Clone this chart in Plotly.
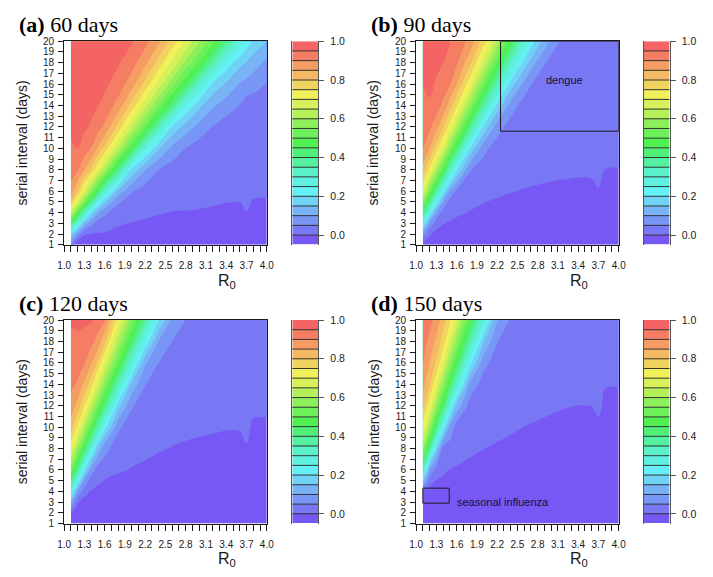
import plotly.graph_objects as go

# grid the model was evaluated on
R0_VALUES = [1.1, 1.2, 1.3, 1.4, 1.5, 1.6, 1.8, 2.0, 2.2, 2.4, 2.6, 2.8, 3.0, 3.2, 3.4, 3.6, 3.7, 3.8, 4.0]
SERIAL_INTERVAL = [1, 2, 3, 4, 5, 6, 8, 10, 12, 14, 16, 18, 20]

# one row per serial interval, one column per R0
FRAC_60_DAYS = [
    [0.04, -0.05, -0.025, -0.025, -0.025, -0.025, -0.025, -0.025, -0.025, -0.025, -0.025, -0.025, -0.025, -0.025, -0.025, -0.025, -0.025, -0.025, -0.025],
    [0.20, 0.08, 0.003, -0.001, -0.003, -0.004, -0.025, -0.025, -0.025, -0.025, -0.025, -0.025, -0.025, -0.025, -0.025, -0.025, -0.025, -0.025, -0.025],
    [0.45, 0.28, 0.14, 0.067, 0.025, 0.025, 0.011, -0.003, -0.017, -0.025, -0.025, -0.025, -0.025, -0.025, -0.025, -0.025, -0.025, -0.025, -0.025],
    [0.67, 0.503, 0.34, 0.196, 0.11, 0.061, 0.025, 0.025, 0.025, 0.006, -0.003, -0.006, -0.013, -0.025, -0.025, -0.025, -0.003, -0.025, -0.025],
    [0.802, 0.68, 0.545, 0.396, 0.255, 0.159, 0.057, 0.025, 0.025, 0.025, 0.025, 0.025, 0.025, 0.017, 0.003, -0.001, 0.025, -0.011, -0.013],
    [0.88, 0.797, 0.69, 0.574, 0.444, 0.309, 0.133, 0.054, 0.025, 0.025, 0.025, 0.025, 0.025, 0.025, 0.025, 0.025, 0.025, 0.025, 0.025],
    [0.925, 0.905, 0.854, 0.791, 0.705, 0.611, 0.402, 0.193, 0.101, 0.049, 0.025, 0.025, 0.025, 0.025, 0.025, 0.025, 0.025, 0.025, 0.025],
    [0.94, 0.952, 0.928, 0.899, 0.846, 0.788, 0.636, 0.471, 0.272, 0.154, 0.088, 0.049, 0.025, 0.025, 0.025, 0.025, 0.025, 0.025, 0.025],
    [0.965, 0.97, 0.958, 0.945, 0.92, 0.89, 0.785, 0.654, 0.518, 0.347, 0.191, 0.127, 0.081, 0.048, 0.025, 0.025, 0.025, 0.025, 0.025],
    [0.97, 0.975, 0.97, 0.96, 0.952, 0.936, 0.88, 0.783, 0.668, 0.548, 0.409, 0.25, 0.163, 0.108, 0.075, 0.049, 0.025, 0.025, 0.025],
    [0.97, 0.975, 0.975, 0.97, 0.965, 0.96, 0.929, 0.872, 0.782, 0.679, 0.571, 0.457, 0.311, 0.191, 0.142, 0.096, 0.083, 0.07, 0.047],
    [0.975, 0.98, 0.98, 0.975, 0.975, 0.97, 0.955, 0.922, 0.864, 0.78, 0.688, 0.589, 0.497, 0.366, 0.235, 0.168, 0.147, 0.125, 0.089],
    [0.98, 0.985, 0.985, 0.985, 0.98, 0.98, 0.97, 0.955, 0.917, 0.858, 0.779, 0.695, 0.605, 0.521, 0.412, 0.288, 0.229, 0.19, 0.151],
]

FRAC_90_DAYS = [
    [-0.02, -0.025, -0.025, -0.025, -0.025, -0.025, -0.025, -0.025, -0.025, -0.025, -0.025, -0.025, -0.025, -0.025, -0.025, -0.025, -0.025, -0.025, -0.025],
    [0.075, 0.006, -0.017, -0.025, -0.025, -0.025, -0.025, -0.025, -0.025, -0.025, -0.025, -0.025, -0.025, -0.025, -0.025, -0.025, -0.025, -0.025, -0.025],
    [0.26, 0.085, 0.025, 0.004, -0.008, -0.025, -0.025, -0.025, -0.025, -0.025, -0.025, -0.025, -0.025, -0.025, -0.025, -0.025, -0.025, -0.025, -0.025],
    [0.43, 0.245, 0.09, 0.025, 0.025, 0.017, -0.006, -0.025, -0.025, -0.025, -0.025, -0.025, -0.025, -0.025, -0.025, -0.025, -0.025, -0.025, -0.025],
    [0.575, 0.405, 0.233, 0.095, 0.025, 0.025, 0.025, 0.004, -0.014, -0.025, -0.025, -0.025, -0.025, -0.025, -0.025, -0.025, -0.025, -0.025, -0.025],
    [0.701, 0.543, 0.381, 0.222, 0.098, 0.038, 0.025, 0.025, 0.025, 0.004, -0.004, -0.011, -0.021, -0.025, -0.025, -0.025, -0.004, -0.025, -0.025],
    [0.83, 0.74, 0.621, 0.486, 0.341, 0.207, 0.053, 0.025, 0.025, 0.025, 0.025, 0.025, 0.025, 0.021, 0.014, 0.017, 0.025, -0.001, -0.003],
    [0.905, 0.849, 0.776, 0.685, 0.563, 0.438, 0.196, 0.065, 0.025, 0.025, 0.025, 0.025, 0.025, 0.025, 0.025, 0.025, 0.025, 0.025, 0.025],
    [0.92, 0.91, 0.871, 0.806, 0.726, 0.625, 0.401, 0.19, 0.073, 0.025, 0.025, 0.025, 0.025, 0.025, 0.025, 0.025, 0.025, 0.025, 0.025],
    [0.935, 0.943, 0.923, 0.89, 0.829, 0.759, 0.576, 0.37, 0.185, 0.079, 0.025, 0.025, 0.025, 0.025, 0.025, 0.025, 0.025, 0.025, 0.025],
    [0.951, 0.962, 0.945, 0.924, 0.903, 0.85, 0.714, 0.534, 0.343, 0.181, 0.084, 0.025, 0.025, 0.025, 0.025, 0.025, 0.025, 0.025, 0.025],
    [0.965, 0.97, 0.96, 0.951, 0.929, 0.909, 0.813, 0.67, 0.497, 0.32, 0.178, 0.088, 0.025, 0.025, 0.025, 0.025, 0.025, 0.025, 0.025],
    [0.97, 0.975, 0.97, 0.96, 0.952, 0.934, 0.884, 0.773, 0.631, 0.467, 0.301, 0.173, 0.091, 0.025, 0.025, 0.025, 0.025, 0.025, 0.025],
]

FRAC_120_DAYS = [
    [-0.025, -0.025, -0.025, -0.025, -0.025, -0.025, -0.025, -0.025, -0.025, -0.025, -0.025, -0.025, -0.025, -0.025, -0.025, -0.025, -0.025, -0.025, -0.025],
    [0.003, -0.025, -0.025, -0.025, -0.025, -0.025, -0.025, -0.025, -0.025, -0.025, -0.025, -0.025, -0.025, -0.025, -0.025, -0.025, -0.025, -0.025, -0.025],
    [0.12, 0.006, -0.025, -0.025, -0.025, -0.025, -0.025, -0.025, -0.025, -0.025, -0.025, -0.025, -0.025, -0.025, -0.025, -0.025, -0.025, -0.025, -0.025],
    [0.286, 0.093, 0.025, -0.003, -0.025, -0.025, -0.025, -0.025, -0.025, -0.025, -0.025, -0.025, -0.025, -0.025, -0.025, -0.025, -0.025, -0.025, -0.025],
    [0.44, 0.243, 0.082, 0.025, 0.017, -0.003, -0.025, -0.025, -0.025, -0.025, -0.025, -0.025, -0.025, -0.025, -0.025, -0.025, -0.025, -0.025, -0.025],
    [0.55, 0.384, 0.205, 0.075, 0.025, 0.025, 0.011, -0.004, -0.021, -0.025, -0.025, -0.025, -0.025, -0.025, -0.025, -0.025, -0.025, -0.025, -0.025],
    [0.72, 0.592, 0.45, 0.287, 0.144, 0.065, 0.025, 0.025, 0.025, 0.006, -0.003, -0.014, -0.025, -0.025, -0.025, -0.025, -0.008, -0.025, -0.025],
    [0.825, 0.737, 0.624, 0.502, 0.36, 0.221, 0.059, 0.025, 0.025, 0.025, 0.025, 0.025, 0.021, 0.011, 0.005, 0.006, 0.025, -0.017, -0.021],
    [0.883, 0.83, 0.755, 0.651, 0.54, 0.418, 0.172, 0.055, 0.025, 0.025, 0.025, 0.025, 0.025, 0.025, 0.025, 0.025, 0.025, 0.025, 0.025],
    [0.91, 0.895, 0.84, 0.774, 0.674, 0.571, 0.346, 0.136, 0.052, 0.025, 0.025, 0.025, 0.025, 0.025, 0.025, 0.025, 0.025, 0.025, 0.025],
    [0.924, 0.914, 0.903, 0.857, 0.793, 0.694, 0.505, 0.288, 0.108, 0.049, 0.025, 0.025, 0.025, 0.025, 0.025, 0.025, 0.025, 0.025, 0.025],
    [0.939, 0.94, 0.93, 0.915, 0.879, 0.809, 0.621, 0.438, 0.239, 0.095, 0.049, 0.025, 0.025, 0.025, 0.025, 0.025, 0.025, 0.025, 0.025],
    [0.955, 0.96, 0.96, 0.955, 0.934, 0.903, 0.73, 0.558, 0.382, 0.201, 0.09, 0.049, 0.025, 0.025, 0.025, 0.025, 0.025, 0.025, 0.025],
]

FRAC_150_DAYS = [
    [-0.025, -0.025, -0.025, -0.025, -0.025, -0.025, -0.025, -0.025, -0.025, -0.025, -0.025, -0.025, -0.025, -0.025, -0.025, -0.025, -0.025, -0.025, -0.025],
    [-0.025, -0.025, -0.025, -0.025, -0.025, -0.025, -0.025, -0.025, -0.025, -0.025, -0.025, -0.025, -0.025, -0.025, -0.025, -0.025, -0.025, -0.025, -0.025],
    [-0.025, -0.025, -0.025, -0.025, -0.025, -0.025, -0.025, -0.025, -0.025, -0.025, -0.025, -0.025, -0.025, -0.025, -0.025, -0.025, -0.025, -0.025, -0.025],
    [-0.005, -0.025, -0.025, -0.025, -0.025, -0.025, -0.025, -0.025, -0.025, -0.025, -0.025, -0.025, -0.025, -0.025, -0.025, -0.025, -0.025, -0.025, -0.025],
    [0.16, 0.025, -0.002, -0.025, -0.025, -0.025, -0.025, -0.025, -0.025, -0.025, -0.025, -0.025, -0.025, -0.025, -0.025, -0.025, -0.025, -0.025, -0.025],
    [0.35, 0.092, 0.025, 0.025, -0.002, -0.006, -0.025, -0.025, -0.025, -0.025, -0.025, -0.025, -0.025, -0.025, -0.025, -0.025, -0.025, -0.025, -0.025],
    [0.601, 0.393, 0.171, 0.025, 0.025, 0.025, 0.017, 0.001, -0.011, -0.025, -0.025, -0.025, -0.025, -0.025, -0.025, -0.025, -0.025, -0.025, -0.025],
    [0.733, 0.592, 0.419, 0.233, 0.087, 0.025, 0.025, 0.025, 0.025, 0.014, -0.001, -0.011, -0.025, -0.025, -0.025, -0.025, -0.021, -0.025, -0.025],
    [0.822, 0.721, 0.586, 0.439, 0.279, 0.133, 0.025, 0.025, 0.025, 0.025, 0.025, 0.025, 0.017, 0.004, -0.001, 0.001, 0.025, -0.025, -0.025],
    [0.867, 0.807, 0.708, 0.58, 0.453, 0.313, 0.086, 0.025, 0.025, 0.025, 0.025, 0.025, 0.025, 0.025, 0.025, 0.025, 0.025, 0.006, 0.004],
    [0.905, 0.848, 0.792, 0.699, 0.577, 0.464, 0.218, 0.067, 0.025, 0.025, 0.025, 0.025, 0.025, 0.025, 0.025, 0.025, 0.025, 0.025, 0.025],
    [0.915, 0.89, 0.837, 0.775, 0.687, 0.575, 0.361, 0.152, 0.052, 0.025, 0.025, 0.025, 0.025, 0.025, 0.025, 0.025, 0.025, 0.025, 0.025],
    [0.925, 0.915, 0.879, 0.826, 0.762, 0.678, 0.48, 0.28, 0.101, 0.045, 0.025, 0.025, 0.025, 0.025, 0.025, 0.025, 0.025, 0.025, 0.025],
]

LEVELS = [0.0, 0.05, 0.1, 0.15, 0.2, 0.25, 0.3, 0.35, 0.4, 0.45, 0.5,
          0.55, 0.6, 0.65, 0.7, 0.75, 0.8, 0.85, 0.9, 0.95]
# fill colour of each band, lowest (below 0.0) first
BAND_COLOURS = [
    "#7858f5", "#7878f5", "#7896f5", "#78b4f5", "#70d2f5", "#64f0f5",
    "#60f0e0", "#5af0c8", "#55f0a0", "#50f078", "#50f050", "#6ef05a",
    "#8cf05a", "#b4f05a", "#d8f05a", "#f0f05a", "#f0d45f", "#f5b964",
    "#f59b64", "#f57d64", "#f56464",
]
CBAR_TICKS = [0.0, 0.2, 0.4, 0.6, 0.8, 1.0]
X_TICKS = [1.0, 1.3, 1.6, 1.9, 2.2, 2.5, 2.8, 3.1, 3.4, 3.7, 4.0]
Y_TICKS = [1, 2, 3, 4, 5, 6, 7, 8, 9, 10, 11, 12, 13, 14, 15, 16, 17, 18, 19, 20]

DENGUE_R0 = [2.25, 4.0]
DENGUE_SI = [11.6, 20.0]
FLU_R0 = [1.1, 1.49]
FLU_SI = [2.9, 4.3]

W, H = 713, 577
PLOT_W, PLOT_H, CBAR_W = 206.7, 207.8, 26.5
STEP = 0.05
SANS = "Liberation Sans"
SERIF = "Liberation Serif"
INK = "#1a1a1a"

band_mid = [LEVELS[0] - STEP / 2] + [lev + STEP / 2 for lev in LEVELS]
colorscale = [[i / (len(BAND_COLOURS) - 1), c] for i, c in enumerate(BAND_COLOURS)]
minor_x = [round(1.0 + 0.1 * i, 1) for i in range(31)]

panels = [
    dict(z=FRAC_60_DAYS, tag="(a)", days="60 days", left=58.3, top=36.0, cbar=291.0),
    dict(z=FRAC_90_DAYS, tag="(b)", days="90 days", left=417.3, top=36.0, cbar=649.3),
    dict(z=FRAC_120_DAYS, tag="(c)", days="120 days", left=58.3, top=320.7, cbar=291.0),
    dict(z=FRAC_150_DAYS, tag="(d)", days="150 days", left=417.3, top=320.7, cbar=649.3),
]


def xdom(a, b):
    return [a / W, b / W]


def ydom(top, bottom):
    return [1 - bottom / H, 1 - top / H]


def sfx(k):
    return "" if k == 1 else str(k)


fig = go.Figure()
layout = {}
annotations = []
shapes = []

for i, p in enumerate(panels):
    k, c = i + 1, i + 5
    fig.add_trace(
        go.Contour(
            x=R0_VALUES, y=SERIAL_INTERVAL, z=p["z"],
            colorscale=colorscale,
            contours=dict(start=LEVELS[0], end=LEVELS[-1], size=STEP,
                          coloring="fill", showlines=False),
            line=dict(width=0),
            showscale=False, hoverinfo="skip",
            xaxis="x" + sfx(k), yaxis="y" + sfx(k),
        )
    )
    fig.add_trace(
        go.Heatmap(
            x=[0], y=band_mid, z=[[m] for m in band_mid],
            colorscale=colorscale, zmin=band_mid[0], zmax=band_mid[-1],
            showscale=False, hoverinfo="skip",
            xaxis=f"x{c}", yaxis=f"y{c}",
        )
    )

    ydomain = ydom(p["top"], p["top"] + PLOT_H)
    layout["xaxis" + sfx(k)] = dict(
        domain=xdom(p["left"], p["left"] + PLOT_W), anchor="y" + sfx(k),
        range=[1.0, 4.0], tickmode="array", tickvals=X_TICKS,
        ticktext=[f"{v:.1f}" for v in X_TICKS],
        ticks="outside", ticklen=6, tickcolor=INK, ticklabelstandoff=5,
        minor=dict(tickmode="array", tickvals=minor_x, ticks="outside",
                   ticklen=6, tickcolor=INK),
        showline=True, mirror=True, linecolor=INK, linewidth=1,
        showgrid=False, zeroline=False, tickfont=dict(size=10, color=INK),
        fixedrange=True,
    )
    layout["yaxis" + sfx(k)] = dict(
        domain=ydomain, anchor="x" + sfx(k),
        range=[1, 20], tickmode="array", tickvals=Y_TICKS,
        ticks="outside", ticklen=5, tickcolor=INK, ticklabelstandoff=2,
        showline=True, mirror=True, linecolor=INK, linewidth=1,
        showgrid=False, zeroline=False, tickfont=dict(size=10, color=INK),
        fixedrange=True,
    )
    layout[f"xaxis{c}"] = dict(
        domain=xdom(p["cbar"], p["cbar"] + CBAR_W), anchor=f"y{c}",
        range=[-0.5, 0.5], visible=False, fixedrange=True,
    )
    layout[f"yaxis{c}"] = dict(
        domain=ydomain, anchor=f"x{c}", side="right",
        range=[LEVELS[0] - STEP, 1.0], tickmode="array", tickvals=CBAR_TICKS,
        ticktext=[f"{v:.1f}" for v in CBAR_TICKS],
        ticks="outside", ticklen=5, tickcolor="#555", ticklabelstandoff=4,
        showline=True, mirror=True, linecolor="#555", linewidth=1,
        showgrid=False, zeroline=False, tickfont=dict(size=10.5, color=INK),
        fixedrange=True,
    )
    for lev in LEVELS:
        shapes.append(dict(type="line", xref=f"x{c} domain", yref=f"y{c}",
                           x0=0, x1=1, y0=lev, y1=lev,
                           line=dict(color="#333", width=1)))

    # panel title, axis titles
    annotations.append(dict(
        text=f"<b>{p['tag']}</b> {p['days']}", xref="paper", yref="paper",
        x=(p["left"] - 48.5) / W, y=1 - (p["top"] - 17) / H,
        xanchor="left", yanchor="middle", showarrow=False,
        font=dict(family=SERIF, size=22, color="black"),
    ))
    annotations.append(dict(
        text="serial interval (days)", xref="paper", yref="paper",
        x=(p["left"] - 43.5) / W, y=1 - (p["top"] + PLOT_H / 2) / H,
        textangle=-90, xanchor="center", yanchor="middle", showarrow=False,
        font=dict(family=SANS, size=14, color=INK),
    ))
    annotations.append(dict(
        text="R<sub>0</sub>", xref="paper", yref="paper",
        x=(p["left"] + 166) / W, y=1 - (p["top"] + 245) / H,
        xanchor="center", yanchor="middle", showarrow=False,
        font=dict(family=SANS, size=16, color=INK),
    ))

shapes.append(dict(type="rect", xref="x2", yref="y2",
                   x0=DENGUE_R0[0], x1=DENGUE_R0[1], y0=DENGUE_SI[0], y1=DENGUE_SI[1],
                   line=dict(color=INK, width=1)))
annotations.append(dict(text="dengue", xref="x2", yref="y2", x=3.2, y=16.4,
                        showarrow=False, font=dict(family=SANS, size=11, color="#111133")))
shapes.append(dict(type="rect", xref="x4", yref="y4",
                   x0=FLU_R0[0], x1=FLU_R0[1], y0=FLU_SI[0], y1=FLU_SI[1],
                   line=dict(color=INK, width=1)))
annotations.append(dict(text="seasonal influenza", xref="x4", yref="y4", x=1.58, y=3.05,
                        xanchor="left", showarrow=False,
                        font=dict(family=SANS, size=11, color="#111133")))

fig.update_layout(
    width=W, height=H, margin=dict(l=0, r=0, t=0, b=0),
    paper_bgcolor="white", plot_bgcolor="white",
    font=dict(family=SANS, color=INK),
    showlegend=False, annotations=annotations, shapes=shapes,
    **layout,
)

# the page's default body margin would shift the figure by a few pixels
fig.write_html("out.html", config={"displayModeBar": False},
               post_script="document.body.style.margin = '0px';")
